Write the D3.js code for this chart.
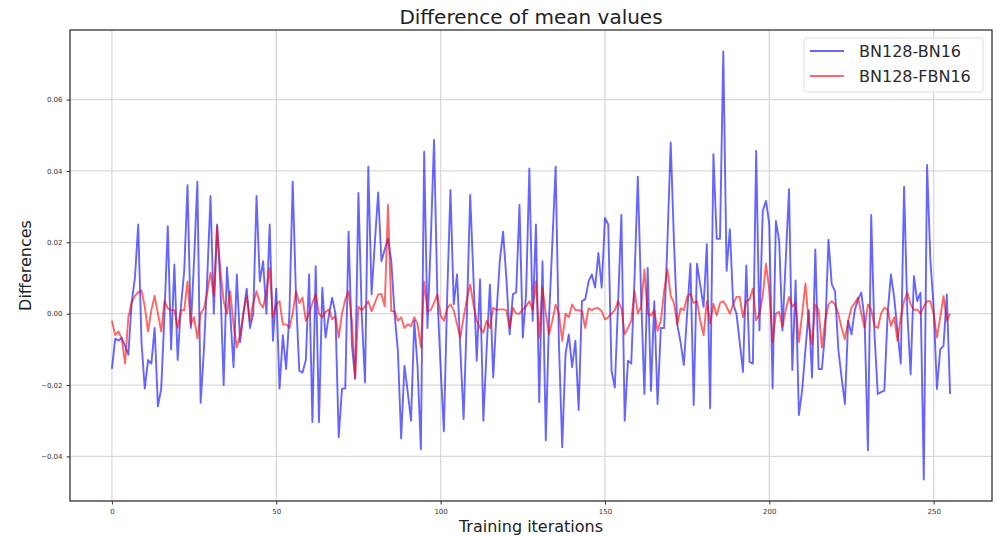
<!DOCTYPE html>
<html>
<head>
<meta charset="utf-8">
<script src="https://cdn.jsdelivr.net/npm/d3@7"></script>
<style>
    body { margin: 0; background: #fff; }
    svg { font-family: "DejaVu Sans", sans-serif; }
</style>
</head>
<body>
<svg width="998" height="536"></svg>
<script>
// values, one per training iteration (0..255)
var bn16 = [
    -0.0155, -0.007, -0.0075, -0.0068, -0.009, -0.0115, 0.003, 0.01, 0.025, -0.008,
    -0.021, -0.013, -0.014, -0.004, -0.026, -0.021, 0.0, 0.0245, -0.010, 0.0138,
    -0.013, 0.002, 0.012, 0.036, -0.004, 0.015, 0.037, -0.025, -0.010, 0.010,
    0.033, 0.0, 0.025, 0.008, -0.020, 0.013, 0.0, -0.015, 0.011, -0.008,
    0.0, 0.007, -0.004, 0.0, 0.033, 0.009, 0.0147, 0.0, 0.025, -0.0076,
    0.007, -0.021, -0.006, -0.0155, 0.0, 0.037, 0.005, -0.016, -0.0165, -0.013,
    0.011, -0.0304, 0.0133, -0.0304, 0.0073, -0.0067, -0.0005, 0.0045, 0.0, -0.0346,
    -0.021, -0.021, 0.023, -0.0086, -0.0183, 0.0338, 0.0, -0.0193, 0.0412, 0.0054,
    0.02, 0.034, 0.0147, 0.018, 0.021, 0.0147, 0.0, -0.0104, -0.035, -0.0146,
    -0.022, -0.030, -0.002, -0.015, -0.038, 0.0454, -0.004, 0.02, 0.0487, 0.0054,
    -0.015, -0.033, 0.005, 0.0347, 0.0026, 0.011, -0.010, -0.0295, 0.0, 0.0333,
    0.01, -0.0132, 0.0096, -0.030, -0.01, 0.0082, -0.0179, 0.0, 0.0147, 0.023,
    0.01, -0.0058, 0.0054, 0.006, 0.0305, -0.0067, 0.0054, 0.0407, -0.002, 0.025,
    -0.0248, 0.0147, -0.0355, -0.001, 0.02, 0.0412, -0.0086, -0.0374, -0.0113, -0.0058,
    -0.015, -0.0076, -0.027, 0.0035, 0.004, 0.009, 0.011, 0.0073, 0.017, 0.0073,
    0.0268, 0.025, -0.016, -0.0207, 0.003, 0.0277, -0.030, -0.0132, -0.014, 0.01,
    0.0384, 0.005, -0.0225, 0.0128, -0.0216, 0.0035, -0.0253, -0.004, -0.004, 0.02,
    0.048, 0.02, -0.003, -0.008, -0.0144, 0.0, 0.014, -0.0256, 0.014, 0.008,
    0.0019, 0.0195, -0.0265, 0.0447, 0.021, 0.021, 0.0735, 0.012, 0.0237, 0.0028,
    0.0, -0.008, -0.0163, 0.0135, -0.0135, -0.014, 0.0456, -0.0047, 0.0288, 0.0316,
    0.025, -0.021, 0.026, 0.0205, -0.0047, 0.015, 0.0349, -0.0158, 0.0093, -0.0284,
    -0.0214, -0.01, 0.001, -0.0179, 0.018, -0.0155, -0.0155, -0.005, 0.0207, 0.0082,
    0.0063, -0.01, -0.018, -0.0253, -0.002, -0.0058, 0.001, 0.004, 0.0059, -0.002,
    -0.0383, 0.0277, -0.0058, -0.0225, -0.022, -0.0216, 0.0, 0.011, 0.0045, -0.005,
    -0.014, 0.0356, 0.0, -0.017, 0.0105, 0.0035, 0.0059, -0.0465, 0.0417, 0.015,
    0.0017, -0.0211, -0.01, -0.009, 0.0054, -0.0225
];

var fbn16 = [
    -0.002, -0.006, -0.005, -0.007, -0.014, -0.001, 0.003, 0.005, 0.006, 0.0065,
    0.002, -0.005, 0.001, 0.005, 0.0, -0.005, 0.0035, 0.0015, 0.001, 0.001,
    -0.004, 0.001, 0.001, 0.009, -0.003, -0.001, -0.007, 0.0, 0.0015, 0.006,
    0.0115, 0.005, 0.0245, 0.012, 0.0035, 0.0, 0.0063, -0.003, -0.0095, -0.006,
    0.0, 0.005, -0.002, 0.003, 0.0063, 0.003, 0.0017, 0.006, 0.0128, -0.001,
    0.0026, 0.0035, -0.003, -0.003, -0.004, 0.0, 0.0063, 0.003, 0.0045, -0.002,
    0.0, 0.003, 0.0054, 0.0, -0.001, 0.0005, 0.0012, -0.0016, -0.0006, -0.0067,
    0.0, 0.004, 0.0063, -0.002, -0.0179, 0.002, 0.001, 0.002, 0.0035, 0.0007,
    0.003, 0.0054, 0.0055, 0.002, 0.0305, 0.0007, 0.0007, -0.002, -0.001, -0.004,
    -0.003, -0.0035, -0.001, -0.003, -0.0095, 0.009, 0.0007, 0.001, 0.003, 0.0054,
    -0.0005, -0.002, 0.0015, 0.0026, 0.001, -0.003, -0.0067, -0.001, 0.004, 0.0082,
    0.0025, -0.002, -0.004, -0.0053, -0.002, -0.004, 0.0017, 0.001, 0.0012, 0.0012,
    0.001, -0.004, 0.0017, 0.0, 0.0, 0.0012, 0.002, 0.0035, 0.001, 0.009,
    -0.0067, 0.0073, 0.0, -0.0058, -0.002, 0.0026, 0.0, -0.0076, 0.0, -0.001,
    0.0026, 0.001, 0.001, 0.0007, -0.004, 0.0015, 0.001, 0.0015, 0.0015, 0.0007,
    -0.0016, -0.001, 0.0, 0.001, 0.0035, 0.0015, -0.0058, -0.004, -0.002, 0.0063,
    0.0, 0.002, 0.0124, 0.0, -0.0005, 0.001, -0.0048, -0.002, 0.0063, 0.0125,
    0.005, 0.003, -0.003, 0.0015, 0.001, 0.0047, 0.0056, 0.003, 0.0035, -0.002,
    -0.006, 0.0035, -0.0028, 0.0028, -0.0005, 0.003, 0.0035, 0.002, 0.0, 0.0025,
    0.0047, 0.0047, -0.001, 0.0035, 0.004, 0.007, -0.0019, 0.0, 0.005, 0.014,
    0.0065, -0.008, 0.0, 0.0005, -0.0037, 0.001, 0.0047, 0.002, 0.003, -0.008,
    0.0, 0.0085, -0.003, -0.0085, 0.0026, 0.001, -0.0095, -0.002, 0.0026, 0.0035,
    0.0026, 0.0, -0.004, -0.0072, -0.002, 0.0017, 0.003, 0.0045, 0.0, -0.004,
    0.0026, 0.0012, -0.0035, -0.004, 0.0, 0.0017, 0.001, -0.0034, -0.001, -0.0076,
    -0.001, 0.0035, 0.0059, 0.0026, 0.001, 0.0012, 0.0, 0.002, 0.0035, 0.0035,
    0.0, -0.0067, -0.001, 0.0049, -0.002, 0.0
];

var seriesNames = ["BN128-BN16", "BN128-FBN16"];
var xTicks = [0, 50, 100, 150, 200, 250];
var yTicks = [-0.04, -0.02, 0.00, 0.02, 0.04, 0.06];

var svg = d3.select("svg"),
    margin = {top: 30, right: 6, bottom: 35, left: 70},
    width = +svg.attr("width") - margin.left - margin.right,
    height = +svg.attr("height") - margin.top - margin.bottom,
    g = svg.append("g").attr("transform", "translate(" + margin.left + "," + margin.top + ")");

// matplotlib style 5% margins around the data
var n = bn16.length;
var xPad = (n - 1) * 0.05;
var all = bn16.concat(fbn16);
var yExt = d3.extent(all);
var yPad = (yExt[1] - yExt[0]) * 0.05;

var x = d3.scaleLinear()
    .domain([-xPad, n - 1 + xPad])
    .range([0, width]);

var y = d3.scaleLinear()
    .domain([yExt[0] - yPad, yExt[1] + yPad])
    .range([height, 0]);

// grid
g.append("g")
    .selectAll("line")
    .data(xTicks)
    .enter().append("line")
    .attr("x1", function (d) { return x(d); })
    .attr("x2", function (d) { return x(d); })
    .attr("y1", 0)
    .attr("y2", height)
    .attr("stroke", "#d9d9d9")
    .attr("stroke-width", 1.3);

g.append("g")
    .selectAll("line")
    .data(yTicks)
    .enter().append("line")
    .attr("x1", 0)
    .attr("x2", width)
    .attr("y1", function (d) { return y(d); })
    .attr("y2", function (d) { return y(d); })
    .attr("stroke", "#d9d9d9")
    .attr("stroke-width", 1.3);

// axes
var xAxis = g.append("g")
    .attr("transform", "translate(0," + height + ")")
    .call(d3.axisBottom(x).tickValues(xTicks).tickSize(3.5).tickPadding(5).tickFormat(d3.format("d")));
xAxis.select(".domain").remove();

var yAxis = g.append("g")
    .call(d3.axisLeft(y).tickValues(yTicks).tickSize(3.5).tickPadding(4).tickFormat(d3.format(".2f")));
yAxis.select(".domain").remove();

svg.selectAll(".tick text")
    .attr("font-family", "DejaVu Sans, sans-serif")
    .attr("font-size", 7)
    .attr("fill", "#333");
svg.selectAll(".tick line").attr("stroke", "#333");

// lines
var line = d3.line()
    .x(function (d, i) { return x(i); })
    .y(function (d) { return y(d); });

g.append("path")
    .datum(bn16)
    .attr("fill", "none")
    .attr("stroke", "#0000ff")
    .attr("stroke-opacity", 0.6)
    .attr("stroke-width", 1.9)
    .attr("stroke-linejoin", "round")
    .attr("d", line);

g.append("path")
    .datum(fbn16)
    .attr("fill", "none")
    .attr("stroke", "#ff0000")
    .attr("stroke-opacity", 0.6)
    .attr("stroke-width", 1.9)
    .attr("stroke-linejoin", "round")
    .attr("d", line);

// frame
g.append("rect")
    .attr("width", width)
    .attr("height", height)
    .attr("fill", "none")
    .attr("stroke", "#333")
    .attr("stroke-width", 1.3);

// legend
var legend = g.append("g").attr("transform", "translate(" + (width - 188) + ",8)");
legend.append("rect")
    .attr("width", 179)
    .attr("height", 54)
    .attr("rx", 3)
    .attr("fill", "#fff")
    .attr("fill-opacity", 0.8)
    .attr("stroke", "#ddd");

var colors = ["#0000ff", "#ff0000"];
seriesNames.forEach(function (name, i) {
    var row = legend.append("g").attr("transform", "translate(0," + (13 + i * 25) + ")");
    row.append("line")
        .attr("x1", 6).attr("x2", 40)
        .attr("stroke", colors[i])
        .attr("stroke-opacity", 0.6)
        .attr("stroke-width", 1.9);
    row.append("text")
        .attr("x", 55)
        .attr("dy", "0.35em")
        .attr("font-size", 16)
        .attr("fill", "#2a2a2a")
        .text(name);
});

// title and labels
svg.append("text")
    .attr("x", margin.left + width / 2)
    .attr("y", 24)
    .attr("text-anchor", "middle")
    .attr("font-size", 20)
    .attr("fill", "#222")
    .text("Difference of mean values");

svg.append("text")
    .attr("x", margin.left + width / 2)
    .attr("y", 532)
    .attr("text-anchor", "middle")
    .attr("font-size", 16)
    .attr("fill", "#222")
    .text("Training iterations");

svg.append("text")
    .attr("transform", "translate(31," + (margin.top + height / 2) + ") rotate(-90)")
    .attr("text-anchor", "middle")
    .attr("font-size", 16)
    .attr("fill", "#222")
    .text("Differences");
</script>
</body>
</html>
